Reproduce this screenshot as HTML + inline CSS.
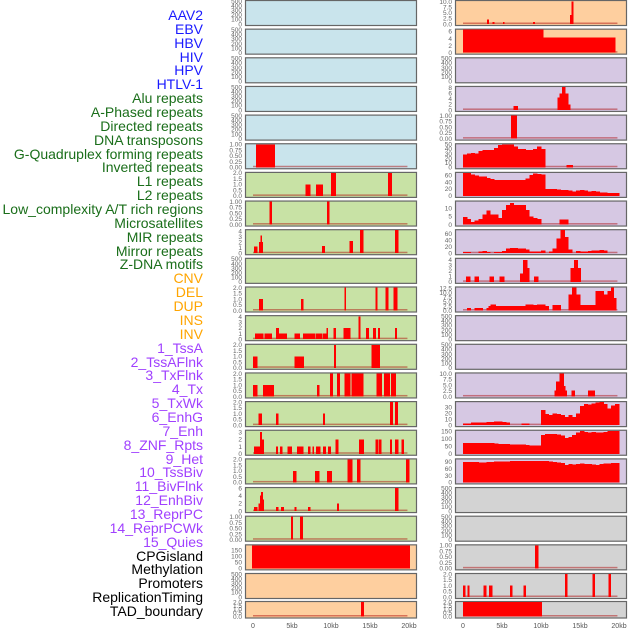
<!DOCTYPE html>
<html><head><meta charset="utf-8">
<style>
html,body{margin:0;padding:0;background:#fff;}
#wrap{position:relative;width:630px;height:630px;overflow:hidden;}
#labels div{position:absolute;right:427px;font:14px "Liberation Sans",sans-serif;white-space:nowrap;line-height:14px;}
svg{position:absolute;left:0;top:0;}
</style></head>
<body>
<div id="wrap">
<div id="labels"></div>
<svg id="chart" width="630" height="630"></svg>
</div>
<script>
const trackNames = ["AAV2","EBV","HBV","HIV","HPV","HTLV-1","Alu repeats","A-Phased repeats","Directed repeats","DNA transposons","G-Quadruplex forming repeats","Inverted repeats","L1 repeats","L2 repeats","Low_complexity A/T rich regions","Microsatellites","MIR repeats","Mirror repeats","Z-DNA motifs","CNV","DEL","DUP","INS","INV","1_TssA","2_TssAFlnk","3_TxFlnk","4_Tx","5_TxWk","6_EnhG","7_Enh","8_ZNF_Rpts","9_Het","10_TssBiv","11_BivFlnk","12_EnhBiv","13_ReprPC","14_ReprPCWk","15_Quies","CPGisland","Methylation","Promoters","ReplicationTiming","TAD_boundary"];
const trackGroups = ["v","v","v","v","v","v","r","r","r","r","r","r","r","r","r","r","r","r","r","s","s","s","s","s","c","c","c","c","c","c","c","c","c","c","c","c","c","c","c","o","o","o","o","o"];
const xTicks = [0,5,10,15,20];
const xTickLabels = ["0","5kb","10kb","15kb","20kb"];

// bars: [startKb, endKb, value]
const L5_bars = [[0.4,2.8,1]];
const L6_bars = [[6.7,7.3,1],[8.1,8.9,1],[10,10.6,2],[17.3,17.8,2]];
const L7_bars = [[2.1,2.4,1],[9.5,9.75,1]];
const L8_bars = [[0.1,0.5,1.2],[0.8,1.2,2],[0.95,1.1,3.2],[8.85,9.2,1.3],[12.4,12.8,2.2],[13.7,14.1,4.2],[18.2,18.6,4.2]];
const L10_bars = [[0.8,1.2,1],[6.15,6.4,1],[11.7,11.9,2],[15.7,15.9,2],[17,17.3,2],[18,18.5,2]];
const L11_bars = [[0.25,1.3,1],[1.5,2.4,1],[2.95,3.25,2],[3.2,3.9,1],[4,4.3,1],[5.3,6,1],[6.4,7.3,1],[7.4,7.95,1],[8.1,8.8,1],[8.9,9.45,1],[9.4,9.55,2],[10.3,10.6,2],[11.6,12.45,2],[13.5,13.7,4],[14.5,14.8,2],[15.4,15.7,2],[16,16.25,2],[18.2,18.4,2]];
const L12_bars = [[0,0.55,1],[5.3,6.5,1],[10.4,10.6,2],[15.2,16.2,2]];
const L13_bars = [[0,0.55,1],[1.3,2.65,1],[8.2,8.45,1],[9.9,10.2,2],[10.8,11.1,2],[11.7,12.45,2],[12.6,14.1,2],[15.85,16.5,2],[16.8,17.5,2],[17.7,18.3,2]];
const L14_bars = [[0.7,1.1,1],[2.95,3.2,1],[9,9.2,1],[17.55,17.9,2],[18.2,18.55,2]];
const L15_bars = [[0.15,0.5,1],[0.6,0.9,1],[0.9,1.1,3],[1.1,1.35,2],[2.95,3.15,1],[3.45,3.7,1],[4.45,4.95,1],[5.65,6.4,1],[7.05,7.3,1],[7.6,7.8,1],[8.1,8.6,1],[9,9.3,1],[9.6,9.95,1],[10.6,10.9,2],[13.6,14.2,2],[15.7,15.95,2],[16.1,16.4,2],[17.55,17.8,2],[18.2,18.6,2],[19.05,19.3,2]];
const L16_bars = [[5.1,5.5,1],[7.95,8.45,1],[9.5,10.1,1],[12.1,12.7,2],[13.35,13.75,2],[19.6,20,2]];
const L17_bars = [[0.15,0.5,1],[0.7,0.9,2],[0.9,1.05,4],[1.05,1.2,5],[1.2,1.35,3],[2.95,3.2,1],[3.6,3.9,1],[5.3,5.55,1],[7.05,7.3,1],[10.8,11,2],[18.2,18.6,6]];
const L18_bars = [[4.9,5.1,1],[6,6.35,1]];
const L19_bars = [[-0.1,20.1,190]];
const L21_bars = [[13.85,14.2,2]];
const R0_bars = [[3.1,3.3,2],[3.8,4.0,1],[5.1,5.3,1],[9,9.2,1],[13.7,13.9,4],[13.9,14.1,10]];
const R1_bars = [[0,10.3,6.5],[10.3,19.5,4.3]];
const R3_bars = [[6.45,7,1.5],[12.1,12.35,4.5],[12.35,12.7,6],[12.7,13.1,8.3],[13.1,13.5,6],[13.5,13.7,2]];
const R4_bars = [[6.15,6.9,1]];
const R5_bars = [[13.3,14.05,5]];
const R7_bars = [[12.4,13.5,3]];
const R9_bars = [[0.4,0.9,1],[1.5,2,1],[3.4,3.9,1],[4.7,5.3,1],[7.3,7.7,1.5],[7.7,8.2,4],[8.2,8.5,2.5],[9.1,9.6,1],[13.8,14.2,2.5],[14.2,14.7,4],[14.7,15.1,2.5]];
const R10_bars = [[0.5,1,1.5],[1.5,2.5,1.5],[3,3.3,1.5],[3.3,3.5,2.5],[3.5,4.2,3.5],[4.2,8,2.5],[8,9,3.5],[9,9.5,3],[9.5,10.5,3.5],[10.5,11,2.5],[11.5,12.5,3],[13.5,14,9],[14,14.5,13],[14.5,15,9],[15,17,3],[17,18,11],[18,18.5,9],[18.5,19,11],[19,19.3,13],[19.3,19.6,7]];
const R13_bars = [[11.7,11.9,2.5],[11.9,12.4,6.5],[12.4,12.9,10],[12.9,13.1,4.5],[13.1,13.3,2.5],[13.9,14.3,2.5],[16,16.9,2.5]];
const R19_bars = [[9.25,9.65,1]];
const R20_bars = [[0,0.25,1],[0.55,0.8,1],[2.6,2.95,1],[3.35,3.7,1],[6.05,6.3,1],[7.75,8.05,1],[13.1,13.35,2],[16.6,16.9,2],[18.65,18.95,2]];
const R21_bars = [[0,10.1,2]];
// profiles: values in 0.5kb bins starting at 0kb
const R5_prof = [28,30,31,30,35,37,38,37,42,48,50,50,49,45,40,40,37,37,40,45,40];
const R6_prof = [65,65,62,58,56,55,52,48,46,46,46,46,45,45,46,46,50,60,64,63,62,20,20,20,18,17,17,15,12,15,17,15,12,14,13,10,10,9,8,8];
const R7_prof = [4.5,3.5,1.5,2.5,3.5,6,8.5,6,6,4,9,12,13,12,12,12,9,5,4,3.5];
const R8_prof = [4,4,0,0,5,7,4,0,3,3,7,14,16,16,15,14,12,5,5,5,8,0,5,15,45,70,50,12,0,7,5,5,7,8,8,10,8,0,0,0];
const R14_prof = [3,3,4,4,4,4,5,5,6,6,5,4,0,0,0,3,3,0,0,0,26,19,17,20,19,17,14,17,14,20,32,36,35,37,38,39,36,28,33,36];
const R15_prof = [72,72,72,72,72,72,72,70,68,66,65,64,62,60,60,60,58,55,55,55,125,130,130,130,128,120,105,110,125,140,150,145,140,145,140,140,145,150,150,150];
const R16_prof = [88,88,88,88,87,86,88,89,90,90,90,90,92,92,92,92,92,92,93,93,94,92,90,88,86,84,75,80,78,80,82,80,80,78,76,80,82,82,85,85];

const emptyTicks = [0,100,200,300,400,500];
const t1 = [0,0.25,0.5,0.75,1], t1l = ["0.00","0.25","0.50","0.75","1.00"];
const t2 = [0,0.5,1,1.5,2], t2l = ["0.0","0.5","1.0","1.5","2.0"];

const BLUE="#c9e4ec",GREEN="#c8e2a5",PEACH="#fecf9f",LAV="#d6c8e3",GRAY="#d3d3d3";
const specs = [
 ["L",0,BLUE,500,emptyTicks,null,null,null],["L",1,BLUE,500,emptyTicks,null,null,null],["L",2,BLUE,500,emptyTicks,null,null,null],
 ["L",3,BLUE,500,emptyTicks,null,null,null],["L",4,BLUE,500,emptyTicks,null,null,null],["L",5,BLUE,1,t1,t1l,L5_bars,null],
 ["L",6,GREEN,2,t2,t2l,L6_bars,null],["L",7,GREEN,1,t1,t1l,L7_bars,null],["L",8,GREEN,4.2,[0,1,2,3,4],null,L8_bars,null],
 ["L",9,GREEN,500,emptyTicks,null,null,null],["L",10,GREEN,2,t2,t2l,L10_bars,null],["L",11,GREEN,4.1,[0,1,2,3,4],null,L11_bars,null],
 ["L",12,GREEN,2,t2,t2l,L12_bars,null],["L",13,GREEN,2,t2,t2l,L13_bars,null],["L",14,GREEN,2,t2,t2l,L14_bars,null],
 ["L",15,GREEN,3.2,[0,1,2,3],null,L15_bars,null],["L",16,GREEN,2,t2,t2l,L16_bars,null],["L",17,GREEN,6,[0,2,4,6],null,L17_bars,null],
 ["L",18,GREEN,1,t1,t1l,L18_bars,null],["L",19,PEACH,190,[0,50,100,150],null,L19_bars,null],["L",20,PEACH,500,emptyTicks,null,null,null],
 ["L",21,PEACH,2,t2,t2l,L21_bars,null],
 ["R",0,PEACH,10.3,[0,2.5,5,7.5,10],["0.0","2.5","5.0","7.5","10.0"],R0_bars,null],["R",1,PEACH,6.5,[0,2,4,6],null,R1_bars,null],
 ["R",2,LAV,500,emptyTicks,null,null,null],["R",3,LAV,8.3,[0,2,4,6,8],null,R3_bars,null],["R",4,LAV,1,t1,t1l,R4_bars,null],
 ["R",5,LAV,50,[0,10,20,30,40,50],null,R5_bars,R5_prof],["R",6,LAV,66,[0,20,40,60],null,null,R6_prof],
 ["R",7,LAV,14,[0,5,10],null,R7_bars,R7_prof],["R",8,LAV,70,[0,20,40,60],null,null,R8_prof],["R",9,LAV,4.2,[0,1,2,3,4],null,R9_bars,null],
 ["R",10,LAV,13,[0,2.5,5,7.5,10,12.5],["0.0","2.5","5.0","7.5","10.0","12.5"],R10_bars,null],["R",11,LAV,500,emptyTicks,null,null,null],
 ["R",12,LAV,500,emptyTicks,null,null,null],["R",13,LAV,10,[0,2.5,5,7.5,10],["0.0","2.5","5.0","7.5","10.0"],R13_bars,null],
 ["R",14,LAV,39,[0,10,20,30],null,null,R14_prof],["R",15,LAV,152,[0,50,100,150],null,null,R15_prof],["R",16,LAV,100,[0,30,60,90],null,null,R16_prof],
 ["R",17,GRAY,500,emptyTicks,null,null,null],["R",18,GRAY,500,emptyTicks,null,null,null],["R",19,GRAY,1,t1,t1l,R19_bars,null],
 ["R",20,GRAY,2,t2,t2l,R20_bars,null],["R",21,GRAY,2,t2,t2l,R21_bars,null]
];

const NS="http://www.w3.org/2000/svg";
const svg=document.getElementById("chart");
function xs(side,kb){return (side==="L"?253:463)+kb*7.8;}
function rowTop(r){return r<21?r*28.65:601;}
function rowH(r){return r<21?25:16.5;}
function mk(tag,attrs,parent){const e=document.createElementNS(NS,tag);for(const k in attrs)e.setAttribute(k,attrs[k]);(parent||svg).appendChild(e);return e;}

const colors={v:"#1a1aff",r:"#1a6e1a",s:"#ffa500",c:"#a040ff",o:"#000"};
const lab=document.getElementById("labels");
trackNames.forEach((n,i)=>{
  const d=document.createElement("div");
  
  
  d.textContent=n;d.style.color=colors[trackGroups[i]];d.style.top=(15+i*13.86-7)+"px";
  lab.appendChild(d);
});

specs.forEach(s=>{
  const [side,row,bg,ymax,ticks,tl,bars,prof]=s;
  const px=side==="L"?245:455, top=rowTop(row), h=rowH(row), bottom=top+h-1;
  const ys=v=>bottom-Math.min(v,ymax)/ymax*(h-2);
  const g=mk("g",{});
  
  
  mk("rect",{x:px+0.5,y:top+0.5,width:171,height:h,fill:bg,stroke:"#666","stroke-width":1.2},g);
  const all=[];
  if(prof) prof.forEach((v,i)=>all.push([i*0.5,i*0.5+0.5,v]));
  if(bars) bars.forEach(b=>all.push(b));
  if(all.length){
    const bl=mk("rect",{x:xs(side,0),y:bottom-1.5,width:xs(side,19.8)-xs(side,0),height:1.5,fill:"rgba(170,0,0,0.45)"},g);
    
    
  }
  all.forEach(b=>{
    const x1=Math.max(px+1,xs(side,b[0])),x2=Math.min(px+171,xs(side,b[1]));
    const r=mk("rect",{x:x1,y:ys(b[2]),width:Math.max(1.2,x2-x1+0.4),height:bottom-ys(b[2]),fill:"#ff0000","shape-rendering":"crispEdges"},g);
    
    
  });
  ticks.forEach((t,i)=>{
    const tx=mk("text",{x:px-3,y:ys(t)+2.3,"text-anchor":"end","font-family":"Liberation Sans, sans-serif","font-size":6.5,fill:"#666"},g);
    
    
    tx.textContent=tl?tl[i]:String(t);
  });
});

["L","R"].forEach(side=>{
  xTicks.forEach((t,i)=>{
    const tx=mk("text",{x:xs(side,t),y:628,"text-anchor":"middle","font-family":"Liberation Sans, sans-serif","font-size":7,fill:"#555"});
    
    
    tx.textContent=xTickLabels[i];
  });
});
</script>
</body></html>
